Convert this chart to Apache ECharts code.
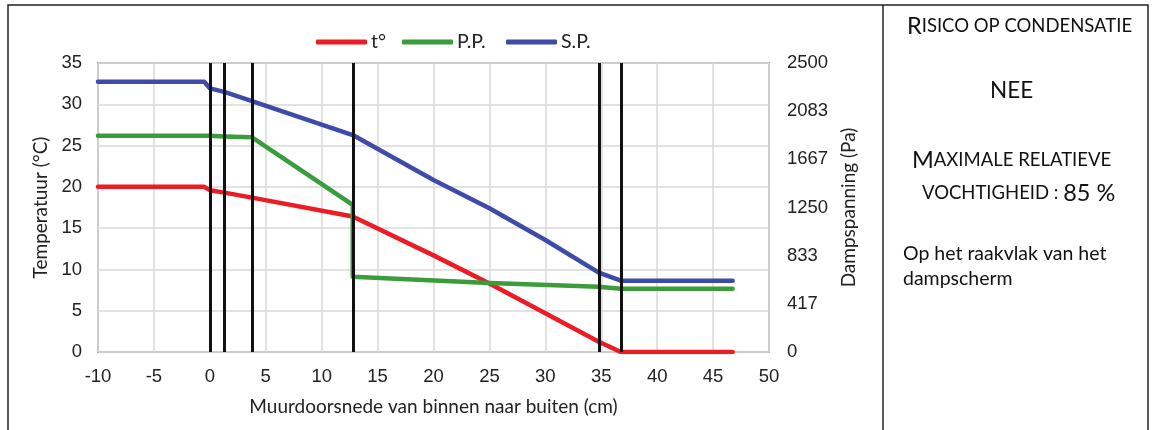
<!DOCTYPE html>
<html>
<head>
<meta charset="utf-8">
<script src="https://cdn.jsdelivr.net/npm/echarts@6/dist/echarts.min.js"></script>
<style>
html,body{margin:0;padding:0;background:#fff;}
#c{width:1155px;height:430px;}
</style>
</head>
<body>
<div id="c"></div>
<script>
// ---- data ----
const seriesNames = ['t°', 'P.P.', 'S.P.'];
// x position (cm) and temperature (°C)
const tempX = [-10, -0.5, 0, 1.3, 3.77, 12.78, 20, 25, 30, 34.78, 36.75, 46.75];
const tempY = [20, 20, 19.6, 19.3, 18.7, 16.4, 11.7, 8.3, 4.7, 1.25, 0, 0];
// partial vapour pressure (Pa)
const ppX = [-10, 0, 1.3, 3.77, 12.78, 12.78, 25, 34.78, 36.75, 46.75];
const ppY = [1871, 1871, 1865, 1857, 1272, 651, 597, 565, 548, 548];
// saturation vapour pressure (Pa)
const spX = [-10, -0.5, 0, 1.3, 3.77, 12.78, 20, 25, 30, 34.78, 36.75, 46.75];
const spY = [2338, 2338, 2281, 2250, 2171, 1877, 1488, 1243, 969, 686, 617, 617];
// layer boundaries (cm)
const boundaries = [0, 1.3, 3.77, 12.78, 34.78, 36.75];
// axis ticks
const xTicks = [-10, 50, 5];
const tempTicks = [0, 35, 5];
const paMax = 2500;
const paSteps = 6;

const colors = ['#ED1C24', '#3A9C3A', '#3E4BA9'];

function pairs(xs, ys) { return xs.map((x, i) => [x, ys[i]]); }

const chart = echarts.init(document.getElementById('c'), null, {renderer: 'canvas'});
const calib = 'Lato, "Open Sans", sans-serif';
const arial = '"Liberation Sans", Arial, sans-serif';

function lineSeries(i, xs, ys, axis) {
  return {
    name: seriesNames[i], type: 'line', yAxisIndex: axis, z: 3,
    data: pairs(xs, ys), showSymbol: false, symbol: 'none',
    itemStyle: {color: colors[i]},
    lineStyle: {width: 4.5, color: colors[i], cap: 'round', join: 'round'}
  };
}

const legendLefts = [311, 397, 501];
function legendItem(i) {
  return {
    data: [seriesNames[i]],
    left: legendLefts[i], top: 27,
    icon: 'roundRect',
    itemWidth: 51, itemHeight: 5,
    textStyle: {fontFamily: calib, fontSize: 19.5, color: '#222', padding: [0, 0, 0, -1]}
  };
}

const option = {
  animation: false,
  backgroundColor: '#fff',
  legend: [legendItem(0), legendItem(1), legendItem(2)],
  grid: {
    left: 98, right: 386, top: 63, bottom: 78,
    show: true, borderColor: '#a6a6a6', borderWidth: 2, backgroundColor: 'transparent'
  },
  xAxis: {
    type: 'value', min: xTicks[0], max: xTicks[1], interval: xTicks[2],
    axisLine: {show: false}, axisTick: {show: false},
    splitLine: {show: true, lineStyle: {color: '#d9d9d9', width: 1.5}},
    axisLabel: {fontFamily: arial, fontSize: 18.5, color: '#222', margin: 15},
    name: 'Muurdoorsnede van binnen naar buiten (cm)',
    nameLocation: 'middle', nameGap: 45,
    nameTextStyle: {fontFamily: calib, fontSize: 19, color: '#222'}
  },
  yAxis: [{
    type: 'value', min: tempTicks[0], max: tempTicks[1], interval: tempTicks[2],
    axisLine: {show: false}, axisTick: {show: false},
    splitLine: {show: true, lineStyle: {color: '#d9d9d9', width: 1.5}},
    axisLabel: {fontFamily: arial, fontSize: 18.5, color: '#222', margin: 16},
    name: 'Temperatuur (°C)', nameLocation: 'middle', nameGap: 47,
    nameTextStyle: {fontFamily: calib, fontSize: 19, color: '#222'}
  }, {
    type: 'value', min: 0, max: paMax, interval: paMax / paSteps,
    axisLine: {show: false}, axisTick: {show: false}, splitLine: {show: false},
    axisLabel: {fontFamily: arial, fontSize: 18.5, color: '#222', margin: 18,
      formatter: v => String(Math.round(v))},
    name: 'Dampspanning (Pa)', nameLocation: 'middle', nameGap: 70,
    nameTextStyle: {fontFamily: calib, fontSize: 19, color: '#222'}
  }],
  series: [{
    name: 'walls', type: 'line', data: [], z: 1, silent: true,
    itemStyle: {color: '#111'},
    markLine: {
      silent: true, symbol: ['none', 'none'], label: {show: false},
      lineStyle: {color: '#111', width: 3, type: 'solid'},
      data: boundaries.map(b => ({xAxis: b}))
    }
  },
    lineSeries(0, tempX, tempY, 0),
    lineSeries(1, ppX, ppY, 1),
    lineSeries(2, spX, spY, 1)
  ],
  graphic: [
    {type: 'polyline', silent: true, shape: {points: [[8, 440], [8, 5], [1148, 5], [1148, 440]]},
      style: {stroke: '#222', lineWidth: 1.5, fill: null}},
    {type: 'line', silent: true, shape: {x1: 883, y1: 5, x2: 883, y2: 440},
      style: {stroke: '#222', lineWidth: 1.5}},
    {type: 'text', left: 907, top: 14, style: {
      text: '{a|R}{b|ISICO OP CONDENSATIE}',
      rich: {a: {fontFamily: calib, fontSize: 23.5, fill: '#111'},
             b: {fontFamily: calib, fontSize: 18.5, fill: '#111'}}}},
    {type: 'text', left: 990, top: 79, style: {
      text: 'NEE', font: '22.5px Lato', fill: '#111'}},
    {type: 'text', left: 912, top: 148, style: {
      text: '{a|M}{b|AXIMALE RELATIEVE}',
      rich: {a: {fontFamily: calib, fontSize: 23.5, fill: '#111'},
             b: {fontFamily: calib, fontSize: 18.5, fill: '#111'}}}},
    {type: 'text', left: 922, top: 181, style: {
      text: '{b|VOCHTIGHEID : }{a|85 %}',
      rich: {a: {fontFamily: calib, fontSize: 23.5, fill: '#111'},
             b: {fontFamily: calib, fontSize: 18.5, fill: '#111'}}}},
    {type: 'text', left: 903, top: 241, style: {
      text: 'Op het raakvlak van het\ndampscherm', font: '19.5px Lato', fill: '#111', lineHeight: 25}}
  ]
};
chart.setOption(option);
</script>
</body>
</html>
